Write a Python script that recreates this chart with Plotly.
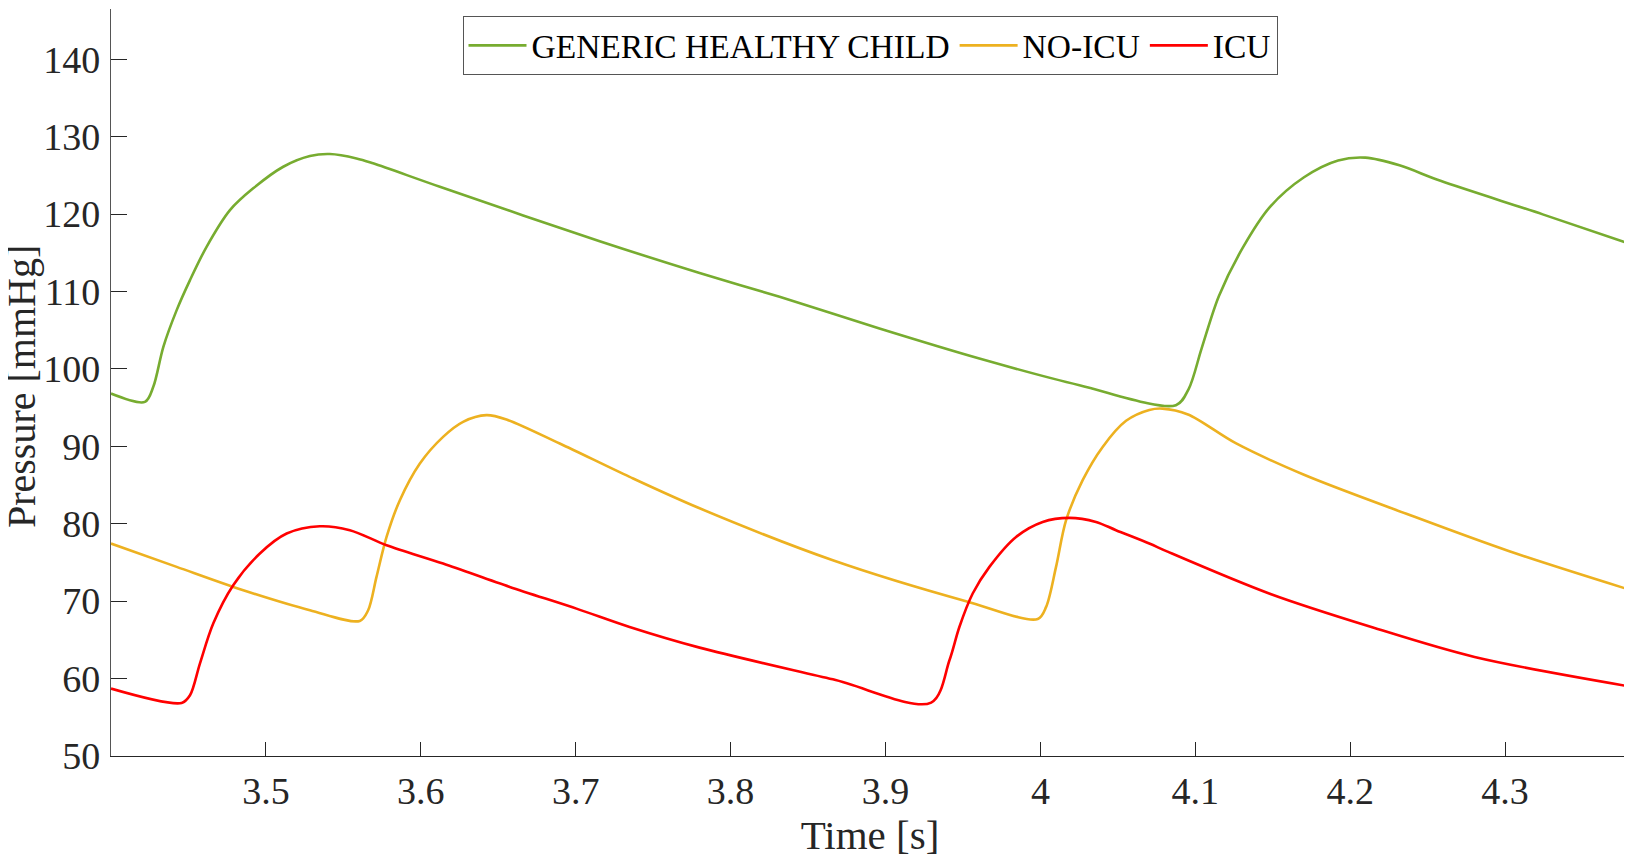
import plotly.graph_objects as go

# ---- data ----
t_healthy = [3.400, 3.4219, 3.4273, 3.4338, 3.4424, 3.451, 3.4617, 3.4768, 3.4918, 3.5112,
             3.5284, 3.5413, 3.5585, 3.5692, 3.6123, 3.7155, 3.78, 3.8316, 3.8961, 3.9606,
             4.0252, 4.0875, 4.0957, 4.1041, 4.1152, 4.1305, 4.1481, 4.1702, 4.1922, 4.2098,
             4.2318, 4.2583, 4.3243, 4.38]
p_healthy = [96.83, 95.75, 97.69, 102.86, 107.6, 111.48, 115.78, 120.52, 123.33, 126.12,
             127.5, 127.76, 127.2, 126.56, 123.53, 116.5, 112.4, 109.32, 105.23, 101.35,
             97.9, 95.32, 97.4, 102.66, 109.4, 115.6, 120.9, 124.76, 126.93, 127.3,
             126.3, 124.3, 119.97, 116.2]

t_noicu = [3.400, 3.4424, 3.4854, 3.5284, 3.5606, 3.566, 3.5714, 3.5779, 3.5865, 3.5994,
           3.6144, 3.6273, 3.6424, 3.6553, 3.6897, 3.7348, 3.78, 3.866, 3.952, 3.9983,
           4.0037, 4.0101, 4.0166, 4.0273, 4.0402, 4.0553, 4.0703, 4.0788, 4.0953, 4.1261,
           4.1702, 4.2363, 4.3023, 4.38]
p_noicu = [77.45, 74.43, 71.41, 68.83, 67.45, 68.83, 73.14, 78.3, 83.05, 87.79,
           91.23, 93.17, 94.03, 93.47, 90.37, 86.06, 82.0, 75.29, 70.0, 67.7,
           69.26, 74.43, 80.46, 85.63, 89.93, 93.3, 94.7, 94.88, 94.12, 90.41,
           86.33, 81.29, 76.48, 71.5]

t_icu = [3.400, 3.4456, 3.451, 3.4574, 3.466, 3.4789, 3.4961, 3.5134, 3.5348, 3.5542,
         3.5779, 3.6144, 3.6574, 3.7005, 3.7348, 3.78, 3.866, 3.9295, 3.9413, 3.9477,
         3.9563, 3.9671, 3.9843, 4.0015, 4.0187, 4.0359, 4.0488, 4.0703, 4.0821, 4.1481,
         4.2142, 4.2803, 4.38]
p_icu = [58.71, 56.85, 57.84, 61.94, 67.11, 72.06, 76.16, 78.74, 79.68, 79.17,
         77.23, 74.86, 71.84, 69.04, 66.67, 64.0, 59.9, 56.9, 62.37, 66.67,
         70.99, 74.43, 78.3, 80.24, 80.76, 80.24, 79.17, 77.45, 76.4, 70.96,
         66.63, 62.79, 59.0]

series_names = ["GENERIC HEALTHY CHILD", "NO-ICU", "ICU"]
series_colors = ["#77AC30", "#EDB120", "#FF0000"]

x_ticks = [3.5, 3.6, 3.7, 3.8, 3.9, 4.0, 4.1, 4.2, 4.3]
x_ticktext = ["3.5", "3.6", "3.7", "3.8", "3.9", "4", "4.1", "4.2", "4.3"]
y_ticks = [50, 60, 70, 80, 90, 100, 110, 120, 130, 140]

FONT = "Liberation Serif, Times New Roman, serif"
AX = "#262626"

fig = go.Figure()
for t, p, n, c in zip([t_healthy, t_noicu, t_icu], [p_healthy, p_noicu, p_icu],
                      series_names, series_colors):
    fig.add_trace(go.Scatter(x=t, y=p, mode="lines", name=n,
                             line=dict(color=c, width=2.6, shape="spline", smoothing=0.9)))

# the page body has an 8px default margin, so the figure is drawn 8px smaller
fig.update_layout(
    width=1624, height=859,
    margin=dict(l=103, r=3, t=1, b=111, autoexpand=False),
    paper_bgcolor="white", plot_bgcolor="white",
    font=dict(family=FONT, color=AX),
    showlegend=True,
    legend=dict(orientation="h", x=0.5, xanchor="center", y=0.951, yanchor="middle",
                font=dict(family=FONT, size=33.5, color="black"),
                bgcolor="white", bordercolor="#555555", borderwidth=1,
                itemwidth=58, tracegroupgap=0),
    annotations=[dict(text="Pressure [mmHg]", textangle=-90, xref="paper", yref="paper",
                      x=-0.0594, y=0.495, xanchor="center", yanchor="middle",
                      showarrow=False, font=dict(family=FONT, size=40, color=AX))],
)
fig.update_xaxes(
    range=[3.4, 4.38], tickvals=x_ticks, ticktext=x_ticktext,
    showline=True, linecolor=AX, linewidth=1.3, mirror=False,
    ticks="inside", ticklen=14, tickcolor=AX, tickwidth=1.2,
    showgrid=False, zeroline=False, automargin=False,
    tickfont=dict(family=FONT, size=38, color=AX), ticklabelstandoff=1,
    title=dict(text="Time [s]", font=dict(family=FONT, size=41, color=AX), standoff=4),
)
fig.update_yaxes(
    range=[50, 146.5], tickvals=y_ticks,
    showline=True, linecolor="#555555", linewidth=1.3, mirror=False,
    ticks="inside", ticklen=16, tickcolor=AX, tickwidth=1.2,
    showgrid=False, zeroline=False, automargin=False,
    tickfont=dict(family=FONT, size=38, color=AX), ticklabelstandoff=2,
)

fig.write_html("out.html")
